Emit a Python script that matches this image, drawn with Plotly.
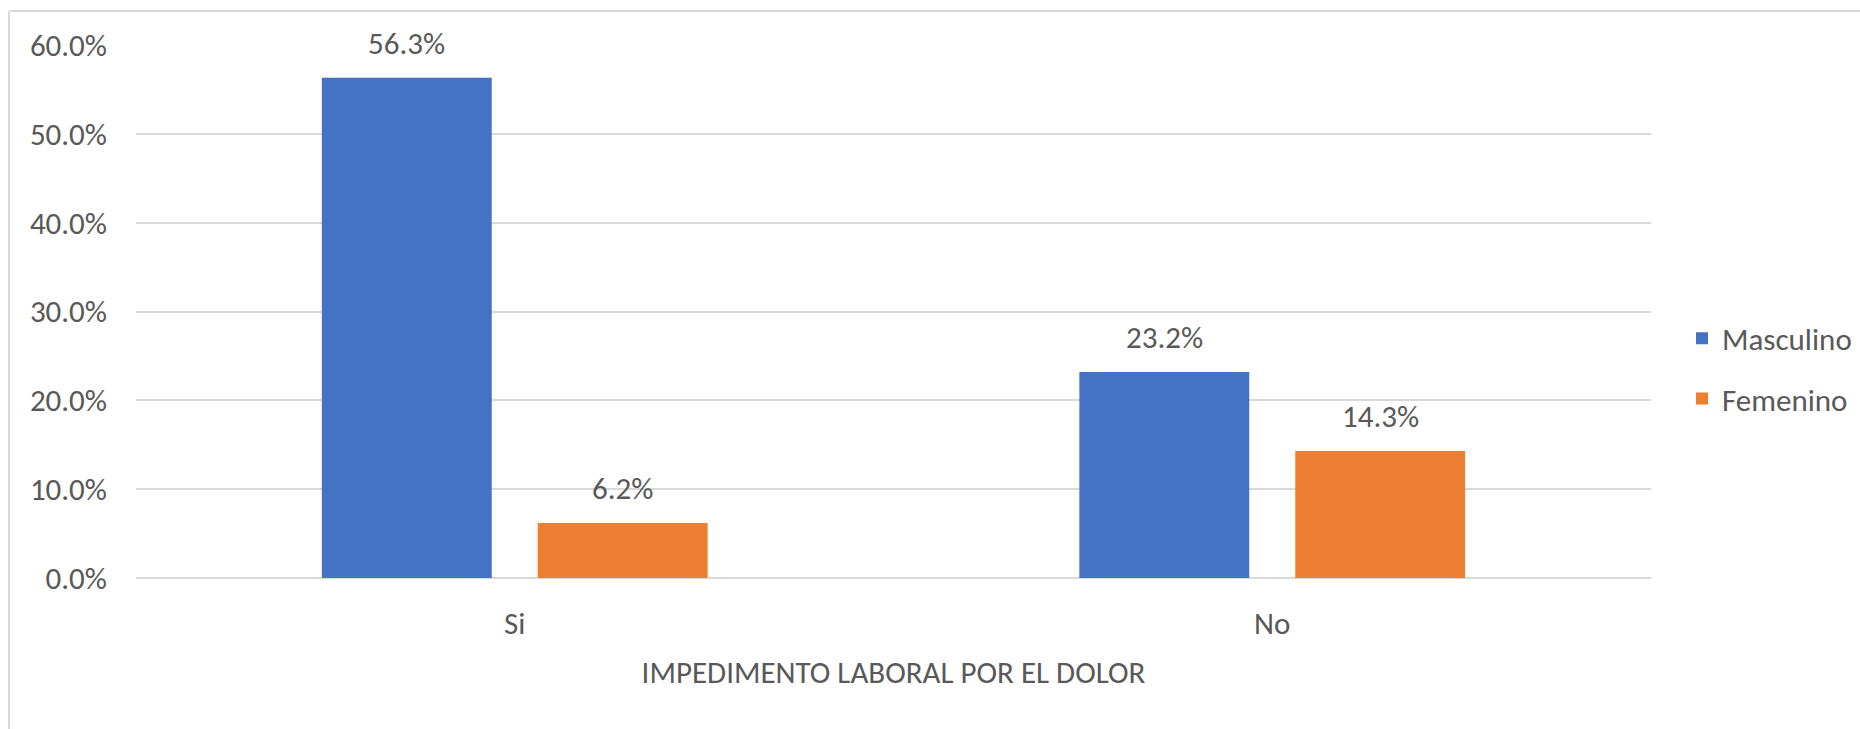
import plotly.graph_objects as go

# Data
categories = ["Si", "No"]
masculino = [0.563, 0.232]
femenino = [0.062, 0.143]
series_names = ["Masculino", "Femenino"]
colors = ["#4472C4", "#ED7D31"]
y_ticks = [0.0, 0.1, 0.2, 0.3, 0.4, 0.5, 0.6]
x_title = "IMPEDIMENTO LABORAL POR EL DOLOR"

W, H = 1860, 729
M_L, M_R, M_T, M_B = 136, 209, 45, 151
FONT = "Carlito, Calibri, Lato, sans-serif"
FS = 31
TXT = "#595959"
BARGAP = 0.43
GROUPGAP = 0.213

fig = go.Figure()
for name, vals, col in zip(series_names, [masculino, femenino], colors):
    fig.add_trace(go.Bar(
        x=categories, y=vals, name=name, marker_color=col,
        marker_line_width=0, legendgroup=name,
    ))

# value labels above each bar
plot_w = W - M_L - M_R
cat_w = plot_w / len(categories)
slot = cat_w * (1 - BARGAP) / 2
for i, vals in enumerate([masculino, femenino]):
    shift = (i - 0.5) * slot
    for c, v in zip(categories, vals):
        fig.add_annotation(
            x=c, y=v, xref="x", yref="y", text=f"{v*100:.1f}%",
            showarrow=False, xshift=shift, yshift=35, yanchor="middle",
            font=dict(family=FONT, size=FS, color=TXT),
        )

# light frame around the chart
fx0 = (9 - M_L) / plot_w
fy0 = (H - M_B - 11) / (H - M_T - M_B)
fig.add_shape(type="line", xref="paper", yref="paper", x0=fx0, x1=(W + 5 - M_L) / plot_w,
              y0=fy0, y1=fy0, line=dict(color="#D9D9D9", width=2))
fig.add_shape(type="line", xref="paper", yref="paper", x0=fx0, x1=fx0,
              y0=fy0, y1=-(M_B + 5) / (H - M_T - M_B), line=dict(color="#D9D9D9", width=2))

fig.update_layout(
    width=W, height=H,
    margin=dict(l=M_L, r=M_R, t=M_T, b=M_B, autoexpand=False),
    paper_bgcolor="white", plot_bgcolor="white",
    barmode="group", bargap=BARGAP, bargroupgap=GROUPGAP,
    font=dict(family=FONT, size=FS, color=TXT),
    showlegend=True,
    legend=dict(
        x=(1682 - M_L) / plot_w, xanchor="left",
        y=0.393, yanchor="middle",
        font=dict(family=FONT, size=FS, color=TXT),
        tracegroupgap=17, itemwidth=30, bgcolor="rgba(0,0,0,0)",
    ),
    xaxis=dict(
        showgrid=False, zeroline=False, showline=False,
        ticks="", ticklabelstandoff=24,
        tickfont=dict(family=FONT, size=FS, color=TXT),
        title=dict(text=x_title, standoff=20,
                   font=dict(family=FONT, size=FS, color=TXT)),
    ),
    yaxis=dict(
        range=[0, 0.6], tickvals=y_ticks, tickformat=".1%",
        showgrid=True, gridcolor="#D9D9D9", gridwidth=2,
        zeroline=True, zerolinecolor="#D9D9D9", zerolinewidth=2,
        showline=False, ticks="", ticklabelstandoff=28,
        tickfont=dict(family=FONT, size=FS, color=TXT),
    ),
)

fig.write_html("out.html")
